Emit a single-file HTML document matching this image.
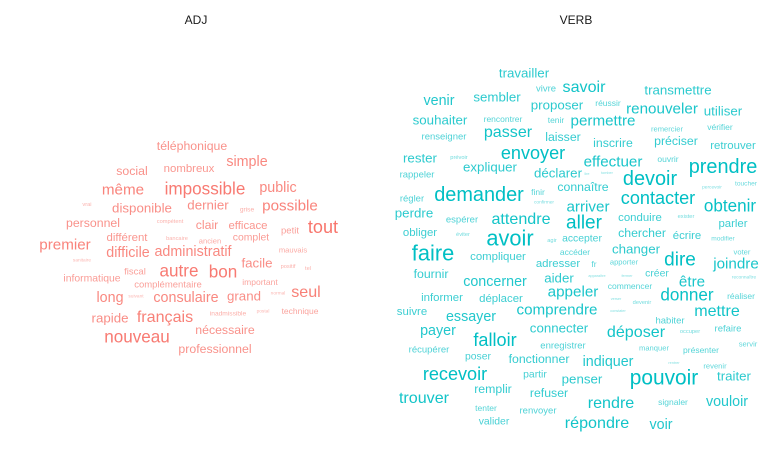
<!DOCTYPE html>
<html><head><meta charset="utf-8"><style>
html,body{margin:0;padding:0;background:#fff;}
svg{display:block;font-family:"Liberation Sans",Arial,sans-serif;}
</style></head><body>
<svg id="c" width="770" height="475" viewBox="0 0 770 475">
<rect width="770" height="475" fill="#fff"/>
<text x="196" y="24" text-anchor="middle" font-size="12" fill="#1a1a1a">ADJ</text>
<text x="576" y="24" text-anchor="middle" font-size="12" fill="#1a1a1a">VERB</text>
<g id="adj"></g>
<g id="verb"></g>
</svg>
<script>
const adjWords=["téléphonique","simple","social","nombreux","même","impossible","public","disponible","dernier","possible","vrai","grise","personnel","compétent","clair","efficace","tout","petit","premier","différent","bancaire","ancien","complet","difficile","administratif","mauvais","sanitaire","facile","positif","tel","fiscal","autre","bon","informatique","important","complémentaire","long","suivant","consulaire","grand","normal","seul","rapide","français","inadmissible","postal","technique","nouveau","nécessaire","professionnel"];
const adjSizes=[13,15,13,12,16,18,15,14,14,16,6,7,13,6,13,12,19,10,16,12,6,8,11,15,15,8,5,14,6,6,10,18,18,11,9,10,15,5,15,14,5,17,14,17,7,5,9,18,13,13];
const adjLayout=[[192,146],[247,162],[132,171],[189,169],[123,190],[205,189],[278,188],[142,208],[208,205],[290,206],[87,205],[247,210],[93,223],[170,222],[207,225],[248,226],[323,227],[290,231],[65,245],[127,238],[177,239],[210,241],[251,238],[128,253],[193,252],[293,250],[82,261],[257,263],[288,267],[308,269],[135,272],[179,271],[223,272],[92,279],[260,282],[168,285],[110,298],[136,297],[186,298],[244,296],[278,294],[306,292],[110,318],[165,317],[228,314],[263,312],[300,311],[137,337],[225,330],[215,349]];

const verbWords=["travailler","vivre","savoir","transmettre","venir","sembler","proposer","réussir","renouveler","utiliser","souhaiter","rencontrer","tenir","permettre","remercier","vérifier","renseigner","passer","laisser","inscrire","préciser","retrouver","rester","prévoir","envoyer","effectuer","ouvrir","prendre","expliquer","rappeler","déclarer","lire","tomber","devoir","demander","finir","connaître","percevoir","toucher","contacter","régler","confirmer","perdre","arriver","obtenir","espérer","attendre","aller","conduire","exister","parler","obliger","éviter","avoir","agir","accepter","chercher","écrire","modifier","faire","compliquer","accéder","changer","voter","dire","adresser","fr","apporter","joindre","fournir","aider","apparaître","fermer","créer","reconnaître","concerner","être","commencer","appeler","donner","informer","déplacer","réaliser","verser","devenir","mettre","suivre","essayer","comprendre","constater","habiter","payer","falloir","connecter","déposer","occuper","refaire","enregistrer","manquer","présenter","servir","récupérer","poser","fonctionner","indiquer","rentrer","revenir","recevoir","partir","penser","pouvoir","traiter","remplir","refuser","trouver","rendre","signaler","vouloir","tenter","renvoyer","valider","répondre","voir"];
const verbSizes=[14,10,17,14,15,14,14,9,16,14,14,9,9,16,8,9,10,17,13,13,13,12,14,6,19,16,9,21,14,10,14,4,4,21,21,9,13,5,7,19,10,5,14,16,18,10,17,20,12,6,12,12,6,23,6,11,13,12,7,23,12,9,14,8,20,12,9,8,16,13,14,4,4,11,5,15,16,9,16,18,12,12,9,4,6,17,12,15,16,4,10,15,19,14,17,6,10,10,8,9,8,10,11,13,15,4,8,19,11,14,22,14,13,13,17,17,9,15,9,10,11,17,15];
const verbLayout=[[524,73],[546,89],[584,87],[678,90],[439,101],[497,97],[557,105],[608,103],[662,109],[723,111],[440,120],[503,119],[556,120],[603,121],[667,129],[720,127],[444,137],[508,132],[563,137],[613,143],[676,141],[733,146],[420,158],[459,158],[533,153],[613,162],[668,159],[723,167],[490,167],[417,175],[558,173],[587,174],[607,173],[650,179],[479,195],[538,192],[583,187],[712,188],[746,184],[658,198],[412,199],[544,203],[414,213],[588,207],[730,206],[462,220],[521,219],[584,223],[640,218],[686,217],[733,224],[420,233],[463,235],[510,238],[552,241],[582,239],[642,233],[687,236],[723,239],[433,253],[498,257],[575,252],[636,249],[742,252],[680,260],[558,264],[594,264],[624,262],[736,264],[431,274],[559,278],[597,276],[627,276],[657,274],[744,278],[495,282],[692,282],[630,286],[573,292],[687,295],[442,298],[501,299],[741,296],[616,299],[642,303],[717,311],[412,312],[471,317],[557,310],[618,311],[670,321],[438,331],[495,340],[559,328],[636,332],[690,332],[728,329],[563,346],[654,348],[701,350],[748,344],[429,350],[478,357],[539,359],[608,362],[674,363],[715,366],[455,374],[535,375],[582,379],[664,378],[734,376],[493,389],[549,393],[424,398],[611,403],[673,402],[727,402],[486,408],[538,411],[494,422],[597,423],[661,425]];

function draw(gid,words,sizes,layout,color,prefix){
  const g=document.getElementById(gid);
  const ns="http://www.w3.org/2000/svg";
  for(let i=0;i<words.length;i++){
    const t=document.createElementNS(ns,"text");
    const s=sizes[i]*0.95;
    t.setAttribute("x",layout[i][0]);
    t.setAttribute("y",layout[i][1]);
    t.setAttribute("text-anchor","middle");
    t.setAttribute("dominant-baseline","central");
    t.setAttribute("font-size",s.toFixed(1));
    t.setAttribute("fill",color);
    t.setAttribute("fill-opacity",(0.5+0.5*Math.min(1,(sizes[i]-4)/15)).toFixed(2));
    
    
    t.textContent=words[i];
    g.appendChild(t);
  }
}
draw("adj",adjWords,adjSizes,adjLayout,"#F8766D","adj");
draw("verb",verbWords,verbSizes,verbLayout,"#00BFC4","verb");
</script>
</body></html>
